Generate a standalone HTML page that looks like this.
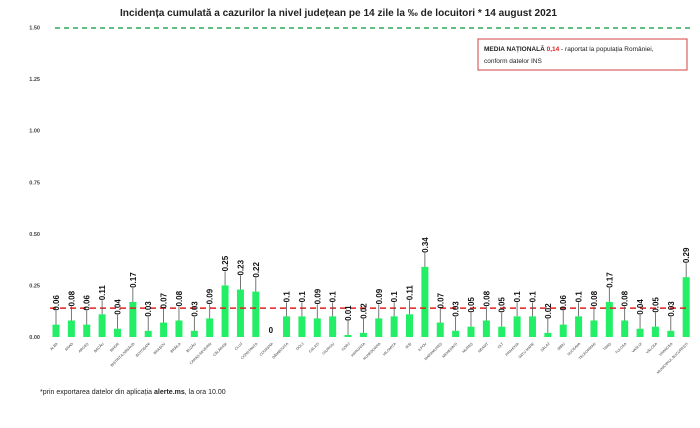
<!DOCTYPE html>
<html><head><meta charset="utf-8"><style>
body{margin:0;background:#fff;}
svg text{font-family:"Liberation Sans",sans-serif;}
</style></head><body>
<svg width="700" height="423" viewBox="0 0 700 423">
<text x="120" y="16" textLength="437" lengthAdjust="spacingAndGlyphs" font-size="10.5" font-weight="bold" fill="#222">Incidența cumulată a cazurilor la nivel județean pe 14 zile la ‰ de locuitori *  14 august 2021</text>
<g id="yaxis"></g>
<line x1="55" x2="692" y1="28" y2="28" stroke="#2eaa5c" stroke-width="1.5" stroke-dasharray="5,4"/>
<g id="bars"></g>
<line id="avg" x1="50" x2="688" stroke="#e02020" stroke-width="1.5" stroke-dasharray="6,4"/>
<g id="labels"></g>
<g id="xlabels"></g>
<rect x="478" y="39" width="209" height="31" fill="#fff" stroke="#d04040" stroke-width="1"/>
<text x="484" y="51" font-size="6.5" fill="#222"><tspan font-weight="bold">MEDIA NAȚIONALĂ </tspan><tspan font-weight="bold" fill="#e02020">0,14</tspan><tspan> - raportat la populația României,</tspan></text>
<text x="484" y="63" font-size="6.5" fill="#222">conform datelor INS</text>
<text x="40" y="394" font-size="7" fill="#222">*prin exportarea datelor din aplicația <tspan font-weight="bold">alerte.ms</tspan>, la ora 10.00</text>
</svg>
<script>
const counties=["ALBA","ARAD","ARGEȘ","BACĂU","BIHOR","BISTRIȚA-NĂSĂUD","BOTOȘANI","BRAȘOV","BRĂILA","BUZĂU","CARAȘ-SEVERIN","CĂLĂRAȘI","CLUJ","CONSTANȚA","COVASNA","DÂMBOVIȚA","DOLJ","GALAȚI","GIURGIU","GORJ","HARGHITA","HUNEDOARA","IALOMIȚA","IAȘI","ILFOV","MARAMUREȘ","MEHEDINȚI","MUREȘ","NEAMȚ","OLT","PRAHOVA","SATU MARE","SĂLAJ","SIBIU","SUCEAVA","TELEORMAN","TIMIȘ","TULCEA","VASLUI","VÂLCEA","VRANCEA","MUNICIPIUL BUCUREȘTI"];
const values=[0.06,0.08,0.06,0.11,0.04,0.17,0.03,0.07,0.08,0.03,0.09,0.25,0.23,0.22,0,0.1,0.1,0.09,0.1,0.01,0.02,0.09,0.1,0.11,0.34,0.07,0.03,0.05,0.08,0.05,0.1,0.1,0.02,0.06,0.1,0.08,0.17,0.08,0.04,0.05,0.03,0.29];
const yTicks=[0,0.25,0.5,0.75,1,1.25,1.5];
const yTickLabels=["0.00","0.25","0.50","0.75","1.00","1.25","1.50"];
const nationalAvg=0.14;
const NS="http://www.w3.org/2000/svg";
const y=v=>337-v*206.3;
const x=i=>56+i*15.37;
function mk(t,a,p){const e=document.createElementNS(NS,t);for(const k in a)e.setAttribute(k,a[k]);p.appendChild(e);return e;}
const ya=document.getElementById('yaxis');
yTicks.forEach((t,i)=>{const e=mk('text',{x:40,y:y(t)+2,'font-size':5.5,'font-weight':'bold','text-anchor':'end',fill:'#444'},ya);e.textContent=yTickLabels[i];

});
const avg=document.getElementById('avg');avg.setAttribute('y1',y(nationalAvg));avg.setAttribute('y2',y(nationalAvg));
const bg=document.getElementById('bars'),lg=document.getElementById('labels'),xg=document.getElementById('xlabels');
values.forEach((v,i)=>{
 const cx=x(i);
 const r=mk('rect',{x:cx-3.5,y:y(v),width:7,height:337-y(v),fill:'#22ee66'},bg);
 
 
 const top=y(v);
 const ly=top-14;
 const l=mk('line',{x1:cx,x2:cx,y1:top,y2:ly,stroke:'#555','stroke-width':0.8},lg);
 
 
 const t=mk('text',{x:0,y:0,'font-size':8,'font-weight':'bold',fill:'#111',transform:`translate(${cx+3},${ly}) rotate(-90)`},lg);
 t.textContent=v===0?'0':String(v);
 if(v===0){t.setAttribute('transform',`translate(${cx-2.5},${top-4})`);l.remove();}
 
 
 const xl=mk('text',{x:0,y:0,'font-size':3.6,'text-anchor':'end',fill:'#333',transform:`translate(${cx+2},${344}) rotate(-45)`},xg);
 xl.textContent=counties[i];
 
 
});
</script>
</body></html>
